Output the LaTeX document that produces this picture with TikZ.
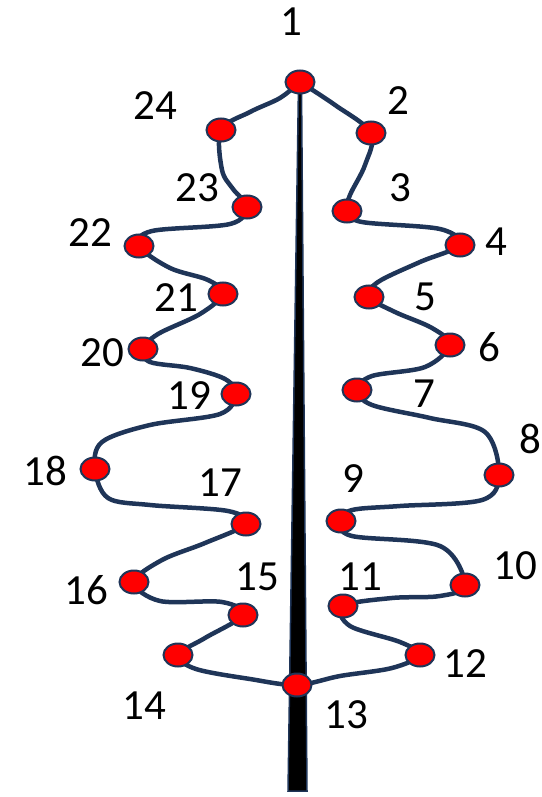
\documentclass[tikz,border=0pt]{standalone}
\usepackage{fontspec}
\setmainfont{Carlito}
\usetikzlibrary{shapes.geometric}
\definecolor{navy}{HTML}{1F3558}
\begin{document}
\begin{tikzpicture}[x=1pt,y=-1pt,
  dot/.style={ellipse,draw=navy,line width=2pt,fill=red,minimum width=29pt,minimum height=23pt,inner sep=0pt},
  lbl/.style={font=\fontsize{43}{43}\selectfont,inner sep=0pt},
  wire/.style={draw=navy,line width=4.5pt,line join=round,line cap=round}]
\useasboundingbox (0,0) rectangle (541,797);
% dot positions
\coordinate (p1) at (300,82);
\coordinate (p2) at (371,133);
\coordinate (p3) at (347,211);
\coordinate (p4) at (460,245);
\coordinate (p5) at (369,297);
\coordinate (p6) at (450,345);
\coordinate (p7) at (357,390);
\coordinate (p8) at (499,475);
\coordinate (p9) at (341,521);
\coordinate (p10) at (465,585);
\coordinate (p11) at (343,606);
\coordinate (p12) at (420,655);
\coordinate (p13) at (297,685);
\coordinate (p14) at (178,655);
\coordinate (p15) at (243,615);
\coordinate (p16) at (134,582);
\coordinate (p17) at (246,524);
\coordinate (p18) at (95,469);
\coordinate (p19) at (236,394);
\coordinate (p20) at (143,349);
\coordinate (p21) at (223,294);
\coordinate (p22) at (139,246);
\coordinate (p23) at (247,207);
\coordinate (p24) at (221,130);
% trunk
\filldraw[fill=black,draw=navy,line width=1.5pt] (298.5,84) -- (301.5,84) -- (307,791) -- (288,791) -- cycle;
% garland
\draw[wire] plot[smooth,tension=0.55] coordinates {
 (p1) (335,105) (371,133)
 (365,165) (350,195) (347,211)
 (362,222) (440,229) (p4)
 (420,262) (378,282) (p5)
 (395,312) (432,328) (p6)
 (425,367) (372,376) (p7)
 (372,405) (430,418) (485,432) (p8)
 (482,500) (400,506) (352,510) (p9)
 (352,536) (440,546) (p10)
 (440,596) (392,598) (p11)
 (350,626) (400,642) (p12)
 (392,668) (340,676) (p13)
 (250,679) (196,669) (p14)
 (205,638) (p15)
 (222,602) (160,601) (p16)
 (162,560) (205,543) (p17)
 (228,511) (150,505) (108,498) (p18)
 (102,442) (150,425) (220,414) (p19)
 (225,379) (190,368) (150,362) (p20)
 (158,334) (200,314) (p21)
 (208,280) (170,268) (p22)
 (152,231) (230,224) (p23)
 (233,189) (222,170) (p24)
 (250,112) (280,98) (p1)
};
% dots
\foreach \i in {1,...,24} { \node[dot] (n\i) at (p\i) {}; }
% labels
\node[lbl] (t1) at (291,22) {1};
\node[lbl] (t2) at (398,101) {2};
\node[lbl] (t3) at (400,188) {3};
\node[lbl] (t4) at (496,242) {4};
\node[lbl] (t5) at (425,297) {5};
\node[lbl] (t6) at (489,347) {6};
\node[lbl] (t7) at (424,394) {7};
\node[lbl] (t8) at (530,439) {8};
\node[lbl] (t9) at (353,479) {9};
\node[lbl] (t10) at (515,566) {10};
\node[lbl] (t11) at (360,577) {11};
\node[lbl] (t12) at (465,664) {12};
\node[lbl] (t13) at (346,715) {13};
\node[lbl] (t14) at (144,706) {14};
\node[lbl] (t15) at (257,577) {15};
\node[lbl] (t16) at (86,590) {16};
\node[lbl] (t17) at (220,483) {17};
\node[lbl] (t18) at (45,471) {18};
\node[lbl] (t19) at (189,396) {19};
\node[lbl] (t20) at (102,353) {20};
\node[lbl] (t21) at (176,298) {21};
\node[lbl] (t22) at (90,233) {22};
\node[lbl] (t23) at (197,188) {23};
\node[lbl] (t24) at (155,106) {24};
\end{tikzpicture}
\end{document}
